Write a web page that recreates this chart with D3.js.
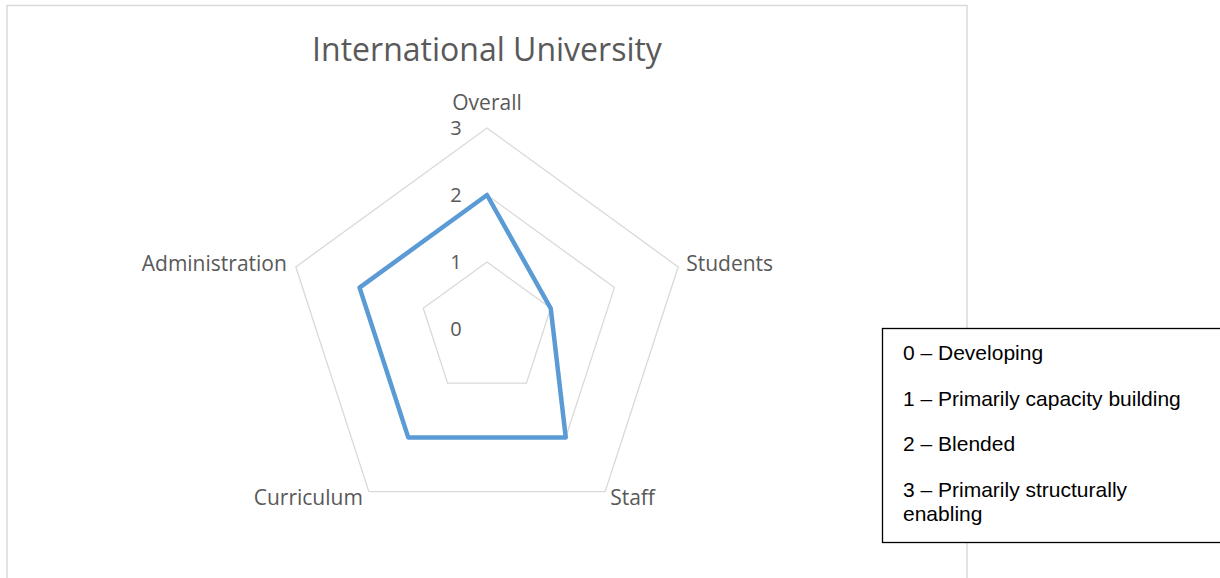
<!DOCTYPE html>
<meta charset="utf-8">
<style>
  body { margin: 0; background: #fff; }
  .grid { fill: none; stroke: #d9d9d9; stroke-width: 1.3px; }
  .series { fill: none; stroke: #5b9bd5; stroke-width: 4.5px; stroke-linejoin: round; }
  .lbl { font-family: "Open Sans", "Noto Sans", sans-serif; fill: #595959; }
  .legend text { font-family: "Liberation Sans", Arial, sans-serif; font-size: 21px; fill: #000; }
</style>
<body>
<script src="https://d3js.org/d3.v7.min.js"></script>
<script>
// chart data
var categories = ["Overall", "Students", "Staff", "Curriculum", "Administration"];
var scores = [2, 1, 2, 2, 2];
var ringValues = [1, 2, 3];
var tickLabels = [0, 1, 2, 3];
var legendLines = [["0 – Developing"], ["1 – Primarily capacity building"], ["2 – Blended"], ["3 – Primarily structurally", "enabling"]];

var width = 1220, height = 578;
var cx = 487, cy = 329;

var svg = d3.select("body").append("svg")
    .attr("width", width)
    .attr("height", height);

// chart frame
svg.append("rect")
    .attr("x", 7).attr("y", 5.5)
    .attr("width", 960).attr("height", 590)
    .attr("fill", "none").attr("stroke", "#d9d9d9").attr("stroke-width", 1.5);

svg.append("text")
    .attr("class", "lbl")
    .attr("x", cx).attr("y", 61)
    .attr("text-anchor", "middle")
    .style("font-size", "32px")
    .text("International University");

var r = d3.scaleLinear().domain([0, 3]).range([0, 201]);
var angle = function (i) { return i * 2 * Math.PI / categories.length; };

var g = svg.append("g").attr("transform", "translate(" + cx + "," + cy + ")");

var radial = d3.lineRadial()
    .angle(function (d, i) { return angle(i); })
    .radius(function (d) { return r(d); })
    .curve(d3.curveLinearClosed);

// grid rings
g.selectAll(".grid")
    .data(ringValues)
    .enter().append("path")
    .attr("class", "grid")
    .attr("d", function (v) { return radial(categories.map(function () { return v; })); });

// series
g.append("path")
    .datum(scores)
    .attr("class", "series")
    .attr("d", radial);

// tick labels along the top axis
g.selectAll(".tick")
    .data(tickLabels)
    .enter().append("text")
    .attr("class", "lbl")
    .attr("x", -31)
    .attr("y", function (d) { return -r(d) + 7; })
    .attr("text-anchor", "middle")
    .style("font-size", "20px")
    .text(function (d) { return d; });

// category labels
var labelPos = [
  {dx: 0, dy: -18, anchor: "middle"},
  {dx: 8, dy: 4, anchor: "start"},
  {dx: 5, dy: 13, anchor: "start"},
  {dx: -6, dy: 13, anchor: "end"},
  {dx: -9, dy: 4, anchor: "end"}
];
g.selectAll(".cat")
    .data(categories)
    .enter().append("text")
    .attr("class", "lbl")
    .style("font-size", "21px")
    .attr("text-anchor", function (d, i) { return labelPos[i].anchor; })
    .attr("x", function (d, i) { return r(3) * Math.sin(angle(i)) + labelPos[i].dx; })
    .attr("y", function (d, i) { return -r(3) * Math.cos(angle(i)) + labelPos[i].dy; })
    .text(function (d) { return d; });

// legend box
var legend = svg.append("g").attr("class", "legend");
legend.append("rect")
    .attr("x", 882.5).attr("y", 328.5)
    .attr("width", 345).attr("height", 214)
    .attr("fill", "#fff").attr("stroke", "#000").attr("stroke-width", 1.3);

var baselines = [360, 406, 451, 497];
legendLines.forEach(function (lines, i) {
  var t = legend.append("text").attr("x", 903).attr("y", baselines[i]);
  lines.forEach(function (s, j) {
    t.append("tspan").attr("x", 903).attr("y", baselines[i] + j * 24).text(s);
  });
});
</script>
</body>
